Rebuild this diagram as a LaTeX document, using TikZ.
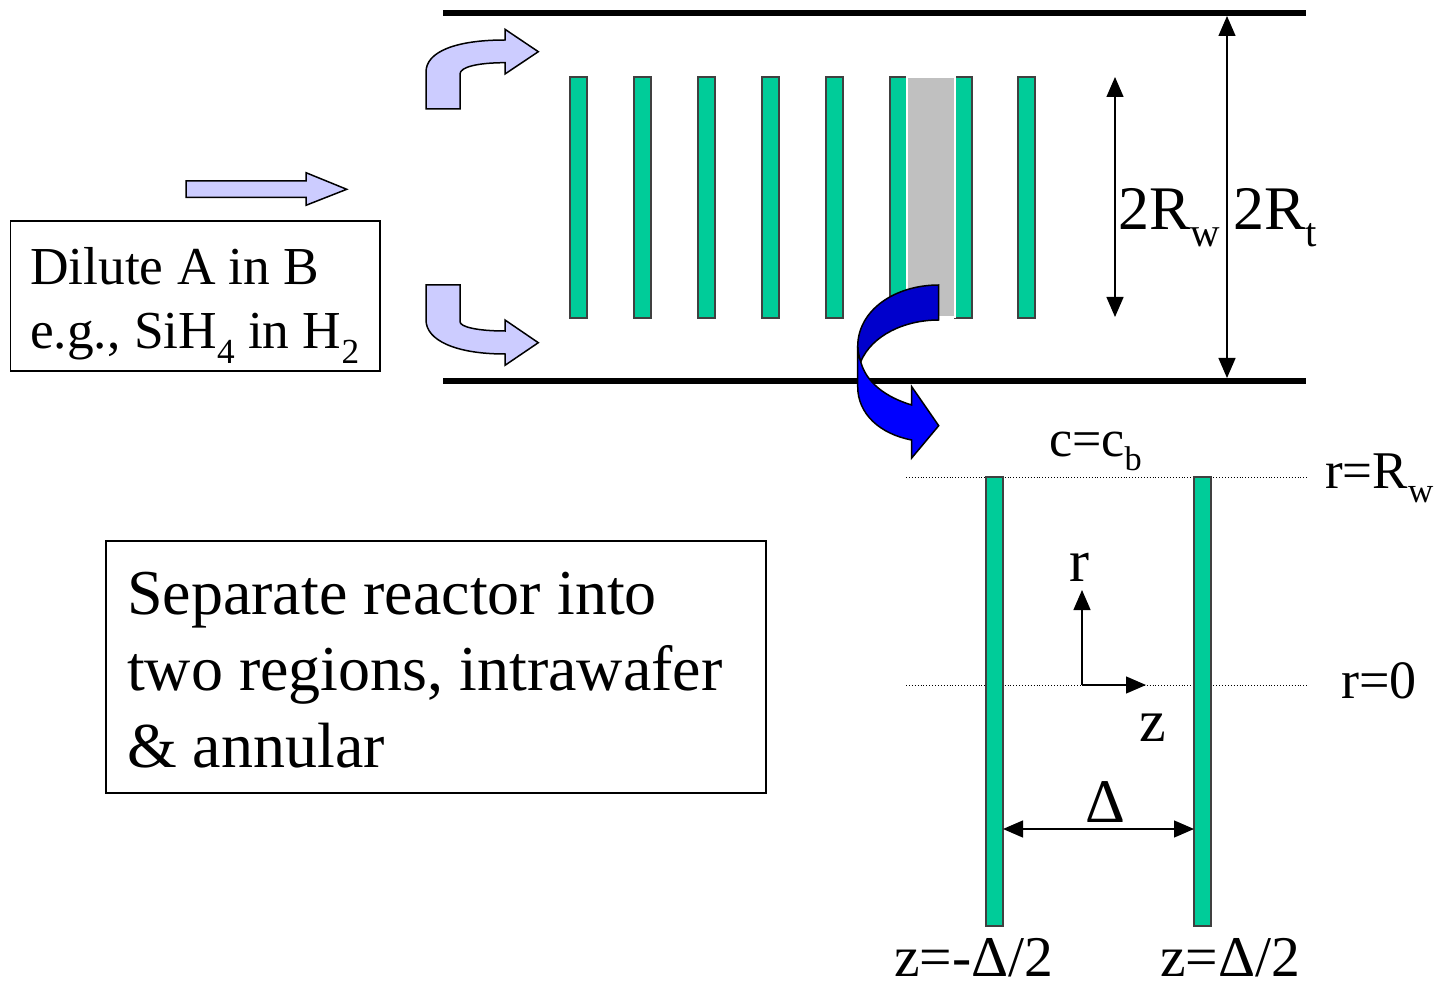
\documentclass[tikz,border=0pt]{standalone}
\usepackage{graphicx}
\usepackage{fontspec}
\setmainfont{Liberation Serif}
\usetikzlibrary{arrows.meta}
\definecolor{wafergreen}{HTML}{00CC99}
\definecolor{flowblue}{HTML}{CCCCFF}
\definecolor{foldlight}{HTML}{0000FF}
\definecolor{folddark}{HTML}{0000CC}
\definecolor{slicegrey}{HTML}{C0C0C0}
\newcommand{\sbs}[1]{\raisebox{-0.27em}{\scalebox{.66}{#1}}}
\newcommand{\fs}[1]{\fontsize{#1}{#1}\selectfont}
\tikzset{
  wafer/.style={draw=black!75,line width=1.4pt,fill=wafergreen,minimum width=17pt,inner sep=0pt,outer sep=0pt,anchor=north west},
  wall/.style={line width=6pt,draw=black},
  flow/.style={draw=black,line width=1.5pt,fill=flowblue,line join=miter},
  fold/.style={draw=black,line width=1.5pt,line join=miter},
  dimarrow/.style={line width=1.3pt,{Triangle[length=20pt,width=17pt]}-{Triangle[length=20pt,width=17pt]}},
  axisarrow/.style={line width=1.3pt,-{Triangle[length=20pt,width=17pt]}},
  refline/.style={line width=.9pt,dotted},
  infobox/.style={draw=black,line width=1.5pt,inner sep=0pt,outer sep=0pt,anchor=north west},
  boxtext/.style={inner sep=0pt,anchor=north west,align=left},
  lbl/.style={inner sep=0pt,anchor=base west},
}
\begin{document}
\begin{tikzpicture}[x=1pt,y=-1pt]
\useasboundingbox (0,0) rectangle (1435,981);
% walls
\coordinate (wtl) at (443,13); \coordinate (wtr) at (1306,13);
\coordinate (wbl) at (443,381); \coordinate (wbr) at (1306,381);
\draw[wall] (wtl) -- (wtr);
\draw[wall] (wbl) -- (wbr);
% wafers
\foreach \n/\x in {a/570,b/634,c/698,d/762,e/826,f/890,g/955,h/1018}
  \node[wafer,minimum height=241pt] (w\n) at (\x,77) {};
\node[inner sep=0pt,outer sep=0pt,draw=white,line width=1.5pt,fill=slicegrey,minimum width=48pt,minimum height=240pt,anchor=north west] (slice) at (907,77) {};
% dimension arrows
\coordinate (rt1) at (1227,16); \coordinate (rt2) at (1227,378);
\draw[dimarrow] (rt1) -- (rt2);
\coordinate (rw1) at (1115,77); \coordinate (rw2) at (1115,317);
\draw[dimarrow] (rw1) -- (rw2);
% flow arrows
\draw[flow] (186,181) -- (306,181) -- (306,172.7) -- (346.7,189.3) -- (306,205.3) -- (306,197.3) -- (186,197.3) -- cycle;
\draw[flow] (426,109) -- (460,109) -- (460,74) .. controls (460,67) and (478,62.7) .. (505,62.7) -- (505,74) -- (538.3,51.7) -- (505,29.3) -- (505,40) .. controls (455,40) and (426,52) .. (426,72) -- cycle;
\draw[flow] (426,285) -- (460,285) -- (460,321.7) .. controls (460,327) and (478,331) .. (505,331) -- (505,320) -- (538.3,342.7) -- (505,365.3) -- (505,354) .. controls (455,354) and (426,340) .. (426,320) -- cycle;
% fold arrow
\draw[fold,fill=folddark] (938.7,285) -- (938.7,320) .. controls (905,320) and (872,335) .. (860.7,361.7) .. controls (859,357) and (857.7,352) .. (857.7,346.7) .. controls (857.7,310) and (895,285) .. (938.7,285) -- cycle;
\draw[fold,fill=foldlight] (857.7,346.7) -- (857.7,386.7) .. controls (857.7,414) and (880,434) .. (911.7,440) -- (911.7,458) -- (938.7,425.7) -- (911.7,386.7) -- (911.7,405) .. controls (885,397) and (866,382) .. (860.7,361.7) .. controls (859,357) and (857.7,352) .. (857.7,346.7) -- cycle;
% lower detail
\coordinate (d1l) at (906,477); \coordinate (d1r) at (1307,477);
\coordinate (d2l) at (906,685); \coordinate (d2r) at (1307,685);
\draw[refline] (d1l) -- (d1r);
\draw[refline] (d2l) -- (d2r);
\node[wafer,minimum height=449pt] (lw) at (986,477) {};
\node[wafer,minimum height=449pt] (rw) at (1194,477) {};
\coordinate (orig) at (1082,685);
\coordinate (rtip) at (1082,590);
\coordinate (ztip) at (1146,685);
\draw[axisarrow] (orig) -- (rtip);
\draw[axisarrow] (orig) -- (ztip);
\coordinate (da) at (1003,829); \coordinate (db) at (1194,829);
\draw[dimarrow] (da) -- (db);
% boxes
\node[infobox,minimum width=369.5pt,minimum height=150pt] (dilute) at (10.5,221) {};
\node[boxtext,font=\fs{53.4}] (dilutetext) at (30,247) {Dilute A in B\\[11pt]e.g., SiH\sbs{4} in H\sbs{2}};
\node[infobox,minimum width=660pt,minimum height=252pt] (sep) at (106.2,541) {};
\node[boxtext,font=\fs{64}] (septext) at (127,572) {Separate reactor into\\[12pt]two regions, intrawafer\\[12.5pt]\& annular};
% labels
\node[lbl,font=\fs{62}] (l2rw) at (1118,230) {2R\sbs{w}};
\node[lbl,font=\fs{62}] (l2rt) at (1233,230) {2R\sbs{t}};
\node[lbl,font=\fs{52}] (lcb) at (1049,456) {c=c\sbs{b}};
\node[lbl,font=\fs{53}] (lrrw) at (1325,488) {r=R\sbs{w}};
\node[lbl,font=\fs{54}] (lr0) at (1341,698) {r=0};
\node[lbl,font=\fs{60}] (lr) at (1069,581) {r};
\node[lbl,font=\fs{60}] (lz) at (1139,741) {z};
\node[lbl,font=\fs{62}] (ldelta) at (1085,822) {Δ};
\node[lbl,font=\fs{57.6}] (lzm) at (894,976) {z=-Δ/2};
\node[lbl,font=\fs{57.6}] (lzp) at (1160,976) {z=Δ/2};
\end{tikzpicture}
\end{document}
